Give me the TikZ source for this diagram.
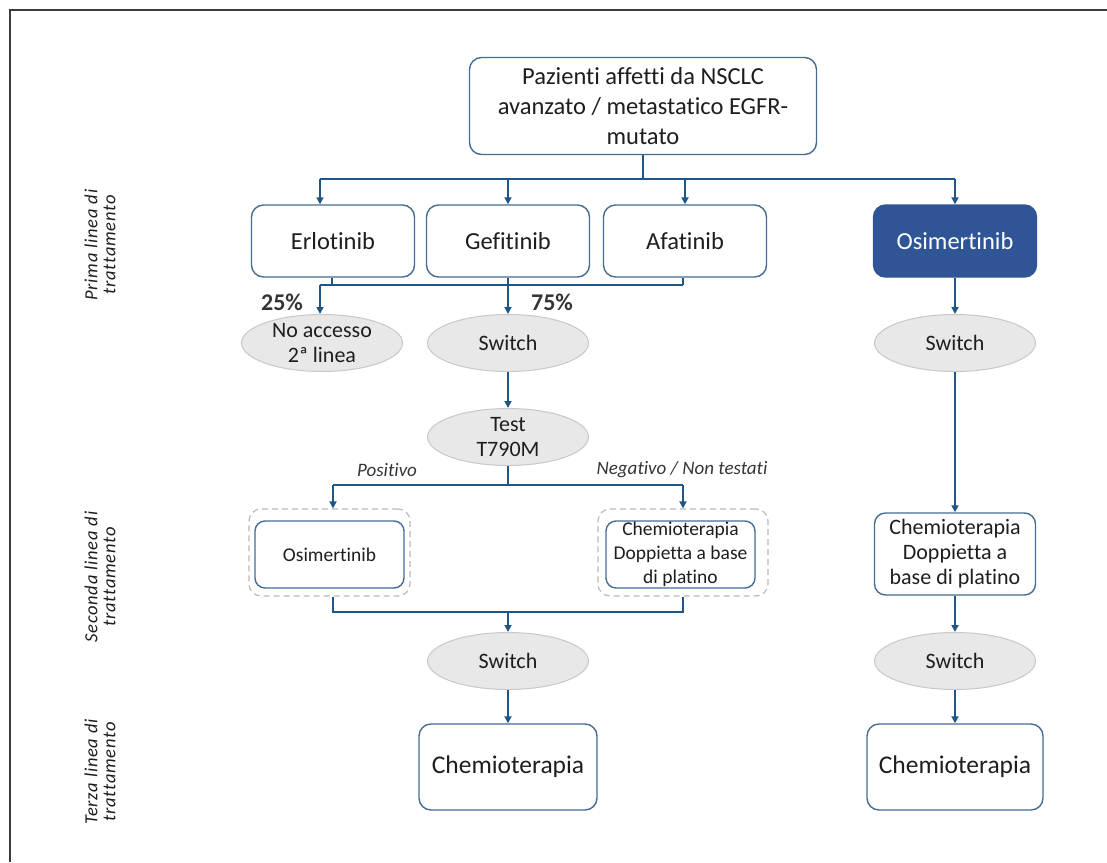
\documentclass[tikz,border=0pt]{standalone}
\usepackage{fontspec}
\setmainfont{Carlito}[Ligatures=NoCommon]
\newfontfamily\phasefont{Carlito}[Ligatures=NoCommon, LetterSpace=4]
\usepackage{tikz}
\usetikzlibrary{arrows.meta,shapes.geometric}
\usepackage{xcolor}
\definecolor{lineBlue}{RGB}{31, 86, 135}
\definecolor{boxBlue}{RGB}{70, 108, 148}
\definecolor{osiBlue}{RGB}{47, 85, 151}
\definecolor{switchGray}{RGB}{232, 232, 232}
\definecolor{switchLine}{RGB}{200, 200, 200}
\definecolor{dashGray}{RGB}{185, 185, 185}
\definecolor{frameGray}{RGB}{60, 60, 60}
\definecolor{textGray}{RGB}{30, 30, 30}

\tikzset{
    box/.style={draw=boxBlue, line width=1.4pt, rounded corners=12pt, fill=white,
        align=center, inner sep=0pt, text=textGray, font=\fontsize{24.5}{30}\selectfont},
    firstbox/.style={box, minimum width=163pt, minimum height=72pt},
    smallbox/.style={box, minimum width=149pt, minimum height=67pt, rounded corners=10pt,
        font=\fontsize{19.5}{24}\selectfont},
    dashbox/.style={draw=dashGray, dashed, dash pattern=on 6pt off 4pt, line width=1.2pt,
        rounded corners=12pt, minimum height=87pt, inner sep=0pt},
    switch/.style={ellipse, draw=switchLine, line width=1pt, fill=switchGray, align=center,
        minimum width=161pt, minimum height=57pt, inner xsep=0pt, inner ysep=-5pt,
        text=textGray, font=\fontsize{22}{25}\selectfont},
    line/.style={draw=lineBlue, line width=1.8pt},
    arr/.style={line, -{Triangle[length=7pt,width=7pt]}},
    pct/.style={font=\bfseries\fontsize{24}{28}\selectfont, text=textGray!90},
    branch/.style={font=\itshape\fontsize{19}{22}\selectfont, text=textGray!90},
    phase/.style={rotate=90, align=center, font=\phasefont\itshape\fontsize{18.5}{18}\selectfont, text=textGray}
}

\begin{document}
\begin{tikzpicture}[x=1pt, y=-1pt]
        \useasboundingbox (0,0) rectangle (1107,862);
        \draw[frameGray, line width=2pt] (10,862) -- (10,10) -- (1107,10);

        % prima linea
        \node[box, minimum width=347pt, minimum height=97pt] (paz) at (643,106)
            {Pazienti affetti da NSCLC\\avanzato / metastatico EGFR-\\mutato};
        \node[firstbox] (erl) at (333,241) {Erlotinib};
        \node[firstbox] (gef) at (508,241) {Gefitinib};
        \node[firstbox] (afa) at (685,241) {Afatinib};
        \node[firstbox, fill=osiBlue, draw=osiBlue, text=white] (osi) at (955,241) {Osimertinib};

        \coordinate (split) at (643,179);
        \coordinate (inErl) at (320,179);
        \draw[line] (paz) -- (split);
        \draw[line] (inErl) -- (split -| osi);
        \draw[arr] (inErl) -- (inErl |- erl.north);
        \draw[arr] (split -| gef) -- (gef);
        \draw[arr] (split -| afa) -- (afa);
        \draw[arr] (split -| osi) -- (osi);

        % switch dopo la prima linea
        \node[switch] (noacc) at (322,343) {No accesso\\2ª linea};
        \node[switch] (swA) at (508,343) {Switch};
        \node[switch] (swB) at (955,343) {Switch};
        \node[pct] (p25) at (282,302) {25\%};
        \node[pct] (p75) at (552,302) {75\%};

        \coordinate (outL) at (320,285);
        \coordinate (outErl) at (332,285);
        \coordinate (outAfa) at (683,285);
        \draw[line] (outErl |- erl.south) -- (outErl);
        \draw[line] (outAfa |- afa.south) -- (outAfa);
        \draw[line] (outL) -- (outAfa);
        \draw[arr] (outL) -- (outL |- noacc.north);
        \draw[arr] (gef) -- (swA);
        \draw[arr] (osi) -- (swB);

        \node[switch] (test) at (508,437) {Test\\T790M};
        \draw[arr] (swA) -- (test);

        % seconda linea
        \coordinate (posL) at (333,485);
        \coordinate (negR) at (683,485);
        \node[branch] (pos) at (387,470) {Positivo};
        \node[branch] (neg) at (682,470) {Negativo / Non testati};

        \node[dashbox, minimum width=161pt] (dpos) at (329.5,552.5) {};
        \node[dashbox, minimum width=170pt] (dneg) at (683,552.5) {};
        \node[smallbox] (osiB) at (329.5,554.5) {Osimertinib};
        \node[smallbox] (chemL) at (680.5,554.5) {Chemioterapia\\Doppietta a base\\di platino};
        \node[box, minimum width=161pt, minimum height=82pt, rounded corners=11pt,
            font=\fontsize{22}{25}\selectfont] (chemR) at (955,554)
            {Chemioterapia\\Doppietta a\\base di platino};

        \draw[line] (test) -- (test |- posL);
        \draw[line] (posL) -- (negR);
        \draw[arr] (posL) -- (posL |- dpos.north);
        \draw[arr] (negR) -- (negR |- dneg.north);
        \draw[arr] (swB) -- (chemR);

        \coordinate (joinL) at (333,612);
        \coordinate (joinR) at (683,612);
        \draw[line] (joinL |- dpos.south) -- (joinL) -- (joinR) -- (joinR |- dneg.south);

        % terza linea
        \node[switch] (swC) at (508,661) {Switch};
        \node[switch] (swD) at (955,661) {Switch};
        \node[box, minimum width=178pt, minimum height=86pt, font=\fontsize{25.5}{30}\selectfont]
            (chem3L) at (508,767) {Chemioterapia};
        \node[box, minimum width=176pt, minimum height=86pt, font=\fontsize{25.5}{30}\selectfont]
            (chem3R) at (955,767) {Chemioterapia};

        \draw[arr] (swC |- joinL) -- (swC);
        \draw[arr] (chemR) -- (swD);
        \draw[arr] (swC) -- (chem3L);
        \draw[arr] (swD) -- (chem3R);

        % linee di trattamento
        \node[phase] (prima) at (100,245) {Prima linea di\\trattamento};
        \node[phase] (seconda) at (100,577) {Seconda linea di\\trattamento};
        \node[phase] (terza) at (100,772) {Terza linea di\\trattamento};
    \end{tikzpicture}
\end{document}
